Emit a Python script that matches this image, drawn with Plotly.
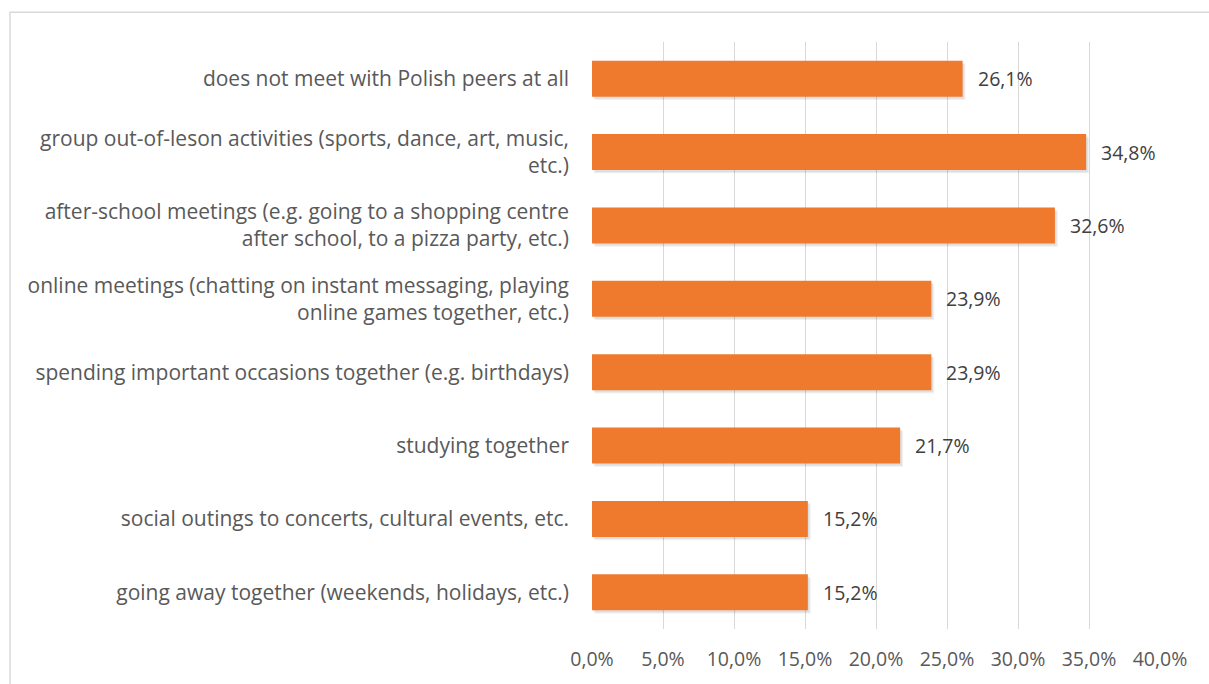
import plotly.graph_objects as go

categories = [
    "does not meet with Polish peers at all",
    "group out-of-leson activities (sports, dance, art, music,<br>etc.)",
    "after-school meetings (e.g. going to a shopping centre<br>after school, to a pizza party, etc.)",
    "online meetings (chatting on instant messaging, playing<br>online games together, etc.)",
    "spending important occasions together (e.g. birthdays)",
    "studying together",
    "social outings to concerts, cultural events, etc.",
    "going away together (weekends, holidays, etc.)",
]
values = [26.1, 34.8, 32.6, 23.9, 23.9, 21.7, 15.2, 15.2]
tick_vals = [0, 5, 10, 15, 20, 25, 30, 35, 40]
tick_text = [f"{v:.1f}%".replace(".", ",") for v in tick_vals]
labels = [f"{v:.1f}%".replace(".", ",") for v in values]

W, H = 1209, 684
ml, mr, mt, mb = 592, 49, 42, 50
pw = W - ml - mr
ph = H - mt - mb

FONT = "Open Sans"
TXT = "#595959"
FS = 21

fig = go.Figure()
# soft shadow layers
for base, off, alpha in [(0.12, -0.215, 0.07), (0.2, -0.2, 0.06)]:
    fig.add_trace(go.Bar(
        y=categories, x=values, orientation="h", base=base,
        width=0.49, offset=off,
        marker=dict(color=f"rgba(0,0,0,{alpha})", line=dict(width=0)),
        hoverinfo="skip", showlegend=False,
    ))
fig.add_trace(go.Bar(
    y=categories, x=values, orientation="h",
    width=0.49, offset=-0.245,
    marker=dict(color="#EF7A2D", line=dict(width=0)),
    showlegend=False,
))

annotations = [
    dict(x=v, y=c, xref="x", yref="y", text=t, showarrow=False,
         xanchor="left", yanchor="middle", xshift=13,
         font=dict(family=FONT, size=19.5, color="#404040"))
    for v, c, t in zip(values, categories, labels)
]

fig.update_layout(
    width=W, height=H,
    margin=dict(l=ml, r=mr, t=mt, b=mb, pad=0),
    paper_bgcolor="white", plot_bgcolor="white",
    barmode="overlay",
    font=dict(family=FONT, size=FS, color=TXT),
    annotations=annotations,
    xaxis=dict(
        range=[0, 40], tickvals=tick_vals, ticktext=tick_text,
        showgrid=True, gridcolor="#D9D9D9", gridwidth=1,
        zeroline=False, showline=False, ticks="",
        tickfont=dict(family=FONT, size=19.5, color=TXT),
        ticklabelstandoff=16,
    ),
    yaxis=dict(
        autorange="reversed", showgrid=False, showline=False, ticks="",
        tickfont=dict(family=FONT, size=FS, color=TXT),
        ticklabelstandoff=22,
    ),
    shapes=[dict(
        type="rect", xref="paper", yref="paper",
        x0=(10 - ml) / pw, x1=(W + 30 - ml) / pw,
        y0=(H - mb - (H + 30)) / ph, y1=(H - mb - 12) / ph,
        line=dict(color="#D9D9D9", width=1.5), fillcolor="rgba(0,0,0,0)",
        layer="below",
    )],
)

fig.write_html("out.html")
